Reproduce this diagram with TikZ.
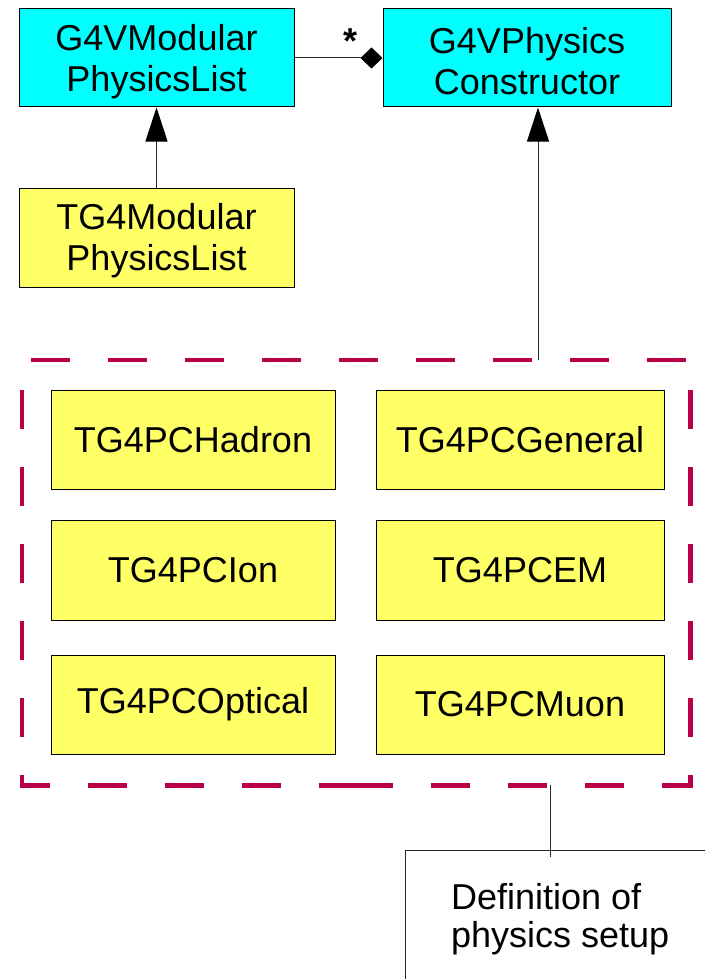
\documentclass[tikz,border=0pt]{standalone}
\usepackage{fontspec}
\setmainfont{Liberation Sans}
\usetikzlibrary{arrows.meta}

\definecolor{clscyan}{RGB}{0,255,255}
\definecolor{clsyellow}{RGB}{255,255,102}
\definecolor{framered}{RGB}{185,0,72}
\definecolor{wire}{RGB}{40,40,40}

% strut that lowers two-line captions a little inside their boxes
\newcommand{\firstline}{\rule{0pt}{33pt}}

\tikzset{
  cls/.style={draw=black, line width=1pt, inner sep=0pt, align=center,
    minimum height=98pt, font=\fontsize{36}{41}\selectfont},
  iface/.style={cls, fill=clscyan},
  impl/.style={cls, fill=clsyellow},
  wide/.style={minimum width=275pt},
  wider/.style={minimum width=288pt},
  pc/.style={impl, minimum width=284pt, minimum height=99pt},
  pcr/.style={impl, minimum width=288pt, minimum height=99pt},
  framepart/.style={draw=framered, line width=4.6pt, line cap=butt,
    line join=miter, dash pattern=on 39pt off 38pt},
  wireline/.style={draw=wire, line width=1pt},
  inherit/.style={wireline, -{Triangle[length=34pt,width=22pt,color=black,fill=black]}},
  compose/.style={wireline, -{Diamond[length=22pt,width=21pt,color=black,fill=black]}},
}

\begin{document}
\begin{tikzpicture}[x=1pt, y=-1pt]
  \useasboundingbox (0,0) rectangle (705,979);
  \clip (0,0) rectangle (705,979);

  % abstract Geant4 classes
  \node[iface, wide]  (modlist) at (156.5,58) {\firstline G4VModular\\PhysicsList};
  \node[iface, wider] (ctor)    at (527,58)   {\firstline G4VPhysics\\Constructor};

  % concrete modular physics list
  \node[impl, wide, minimum height=99pt] (tgmod) at (156.5,237.5) {\firstline TG4Modular\\PhysicsList};

  % group of physics constructors
  \node[minimum width=668pt, minimum height=425pt, inner sep=0pt] (group) at (356,572.5) {};
  \node[pc]  (hadron)  at (193,439.5) {TG4PCHadron};
  \node[pcr] (general) at (520,439.5) {TG4PCGeneral};
  \node[pc, minimum height=100pt]  (ion) at (193,570) {TG4PCIon};
  \node[pcr, minimum height=100pt] (em)  at (520,570) {TG4PCEM};
  \node[pc]  (optical) at (193,704.5) {TG4PCOptical};
  \node[pcr] (muon)    at (520,704.5) {TG4PCMuon};

  % dashed frame round the group
  \draw[framepart, dash phase=68pt] (group.north west) -- (group.north east);
  \draw[framepart, dash phase=47pt] (group.north west) -- (group.south west) -- (group.south);
  \draw[framepart, dash phase=47pt] (group.north east) -- (group.south east) -- (group.south);

  % composition: many constructors per list
  \draw[compose] (modlist.east) -- (ctor.west);
  \node[font=\fontsize{36}{41}\selectfont\bfseries, anchor=base, inner sep=0pt] (mult) at (350,54) {*};

  % inheritance
  \draw[inherit] (tgmod.north) -- (modlist.south);
  \coordinate (gtop) at (538,360);
  \draw[inherit] (gtop) -- (gtop |- ctor.south);

  % note
  \node[draw=wire, line width=1pt, minimum width=330pt, minimum height=160pt,
        anchor=north west, inner sep=0pt] (note) at (405,850) {};
  \node[anchor=north west, inner sep=0pt, align=left,
        font=\fontsize{36}{38}\selectfont] (notetext) at (451,883)
        {Definition of\\physics setup};
  \coordinate (nfoot) at (550,857);
  \draw[wireline] (group.south -| nfoot) -- (nfoot);
\end{tikzpicture}
\end{document}
